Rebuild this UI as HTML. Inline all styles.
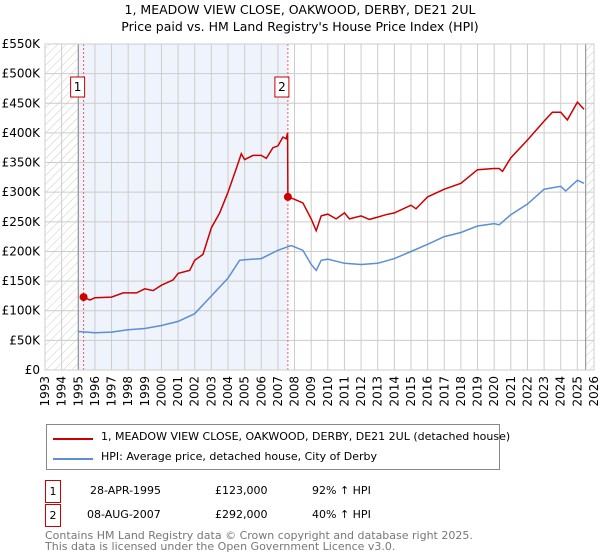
<!DOCTYPE html>
<html><head><meta charset="utf-8"><style>
body{margin:0;background:#fff;font-family:"DejaVu Sans","Liberation Sans",sans-serif;}
#wrap{position:relative;width:600px;height:560px;overflow:hidden}
.t{position:absolute;font-size:11px;color:#000;white-space:nowrap}
.box{position:absolute;border:1px solid #c00;width:14px;height:21px;text-align:center;line-height:21px;font-size:11px}
</style></head><body><div id="wrap">
<div class="t" style="left:0;width:600px;text-align:center;top:2px;font-size:12.5px">1, MEADOW VIEW CLOSE, OAKWOOD, DERBY, DE21 2UL</div>
<div class="t" style="left:0;width:600px;text-align:center;top:19px;font-size:12.5px">Price paid vs. HM Land Registry's House Price Index (HPI)</div>
<svg id="svg" width="600" height="420" style="position:absolute;left:0;top:0">
<defs><pattern id="hatch" width="6" height="6" patternUnits="userSpaceOnUse" patternTransform="rotate(45)"><line x1="0" y1="0" x2="0" y2="6" stroke="#ccc" stroke-width="1"/></pattern></defs>
</svg>
<div style="position:absolute;left:46px;top:424px;width:452px;height:44px;border:1px solid #888">
<div style="position:absolute;left:6px;top:13px;width:40px;height:2px;background:#c00"></div>
<div class="t" style="left:54px;top:5px">1, MEADOW VIEW CLOSE, OAKWOOD, DERBY, DE21 2UL (detached house)</div>
<div style="position:absolute;left:6px;top:33px;width:40px;height:2px;background:#5b8fd4"></div>
<div class="t" style="left:54px;top:25px">HPI: Average price, detached house, City of Derby</div>
</div>
<div class="box" style="left:45px;top:480px">1</div>
<div class="t" style="left:90px;top:484px">28-APR-1995</div>
<div class="t" style="left:215px;top:484px">£123,000</div>
<div class="t" style="left:312px;top:484px">92% ↑ HPI</div>
<div class="box" style="left:45px;top:504px">2</div>
<div class="t" style="left:87px;top:508px">08-AUG-2007</div>
<div class="t" style="left:215px;top:508px">£292,000</div>
<div class="t" style="left:312px;top:508px">40% ↑ HPI</div>
<div class="t" style="left:45px;top:530px;color:#777;line-height:11px">Contains HM Land Registry data © Crown copyright and database right 2025.<br>This data is licensed under the Open Government Licence v3.0.</div>
</div>
<script>
const yTicks=[0,50,100,150,200,250,300,350,400,450,500,550];
const yearTicks=[1993,1994,1995,1996,1997,1998,1999,2000,2001,2002,2003,2004,2005,2006,2007,2008,2009,2010,2011,2012,2013,2014,2015,2016,2017,2018,2019,2020,2021,2022,2023,2024,2025,2026];
const saleYears=[1995.32,2007.6];
const salePrices=[123,292];
const saleLabels=["1","2"];
const redT=[1995.32,1995.7,1996,1997,1997.7,1998.5,1999,1999.5,2000,2000.7,2001,2001.7,2002,2002.5,2003,2003.5,2004,2004.5,2004.8,2005,2005.5,2006,2006.3,2006.7,2007,2007.3,2007.5,2007.58,2007.6,2008,2008.5,2009,2009.3,2009.6,2010,2010.5,2011,2011.3,2012,2012.5,2013,2013.5,2014,2015,2015.3,2016,2017,2018,2019,2020,2020.3,2020.5,2021,2022,2023,2023.5,2024,2024.4,2025,2025.4];
const redV=[123,118,122,123,130,130,137,134,143,152,163,168,185,195,240,265,300,340,365,355,362,362,357,375,378,393,390,400,292,288,282,255,235,260,263,255,265,255,260,254,258,262,265,278,272,292,305,315,338,340,340,335,358,388,420,435,435,422,452,440];
const blueT=[1995,1996,1997,1998,1999,2000,2001,2002,2003,2004,2004.7,2005,2006,2006.5,2007,2007.8,2008.5,2009,2009.3,2009.6,2010,2011,2012,2013,2014,2015,2016,2017,2018,2019,2020,2020.3,2021,2022,2023,2024,2024.3,2025,2025.4];
const blueV=[65,63,64,68,70,75,82,95,125,155,185,186,188,195,202,210,202,178,168,185,187,180,178,180,188,200,212,225,232,243,247,245,262,280,305,310,302,320,315];
const X0=45,X1=594,Y0=370,Y1=44;
const x=t=>X0+(t-1993)/33*(X1-X0);
const y=v=>Y0-v/550*(Y0-Y1);
const svg=document.getElementById('svg');const NS='http://www.w3.org/2000/svg';
function mk(tag,attrs,parent){const e=document.createElementNS(NS,tag);for(const k in attrs)e.setAttribute(k,attrs[k]);(parent||svg).appendChild(e);return e;}
let e;
e=mk('rect',{x:X0,y:Y1,width:X1-X0,height:Y0-Y1,fill:'#fff'});
e=mk('rect',{x:x(1993),y:Y1,width:x(1995)-x(1993),height:Y0-Y1,fill:'url(#hatch)'});

e=mk('rect',{x:x(2025.5),y:Y1,width:X1-x(2025.5),height:Y0-Y1,fill:'url(#hatch)'});

e=mk('rect',{x:x(1995),y:Y1,width:x(saleYears[1])-x(1995),height:Y0-Y1,fill:'#eef3fc'});

yTicks.forEach(v=>{
 e=mk('line',{x1:X0,x2:X1,y1:y(v),y2:y(v),stroke:'#ccc'});
 
 e=mk('text',{x:X0-5,y:y(v)+4,'text-anchor':'end','font-size':12,fill:'#000','font-family':'DejaVu Sans, Liberation Sans, sans-serif'});
 e.textContent=v===0?'£0':'£'+v+'K';
 
});
yearTicks.forEach(t=>{
 e=mk('line',{x1:x(t),x2:x(t),y1:Y1,y2:Y0,stroke:'#ccc'});
 
 e=mk('text',{x:0,y:0,transform:`translate(${x(t)+4},${Y0+6}) rotate(-90)`,'text-anchor':'end','font-size':12,fill:'#000','font-family':'DejaVu Sans, Liberation Sans, sans-serif'});
 e.textContent=t;
 
});
e=mk('line',{x1:x(1995),x2:x(1995),y1:Y1,y2:Y0,stroke:'#888'});
e=mk('line',{x1:x(2025.5),x2:x(2025.5),y1:Y1,y2:Y0,stroke:'#888'});
saleYears.forEach((t,i)=>{
 e=mk('line',{x1:x(t),x2:x(t),y1:Y1,y2:Y0,stroke:'#f55','stroke-dasharray':'2,2'});
 
});
function path(T,V){return T.map((t,i)=>(i?'L':'M')+x(t).toFixed(1)+','+y(V[i]).toFixed(1)).join('');}
e=mk('path',{d:path(blueT,blueV),fill:'none',stroke:'#5b8fd4','stroke-width':1.5});

e=mk('path',{d:path(redT,redV),fill:'none',stroke:'#cc0000','stroke-width':1.5});

saleYears.forEach((t,i)=>{
 e=mk('circle',{cx:x(t),cy:y(salePrices[i]),r:4,fill:'#cc0000'});
 
 e=mk('rect',{x:x(t)-13,y:77,width:14,height:20,fill:'#fff',stroke:'#c00'});
 
 e=mk('text',{x:x(t)-6,y:91,'text-anchor':'middle','font-size':12,'font-family':'DejaVu Sans, Liberation Sans, sans-serif'});
 e.textContent=saleLabels[i];
 
});
e=mk('rect',{x:X0,y:Y1,width:X1-X0,height:Y0-Y1,fill:'none',stroke:'#ccc'});
</script></body></html>
